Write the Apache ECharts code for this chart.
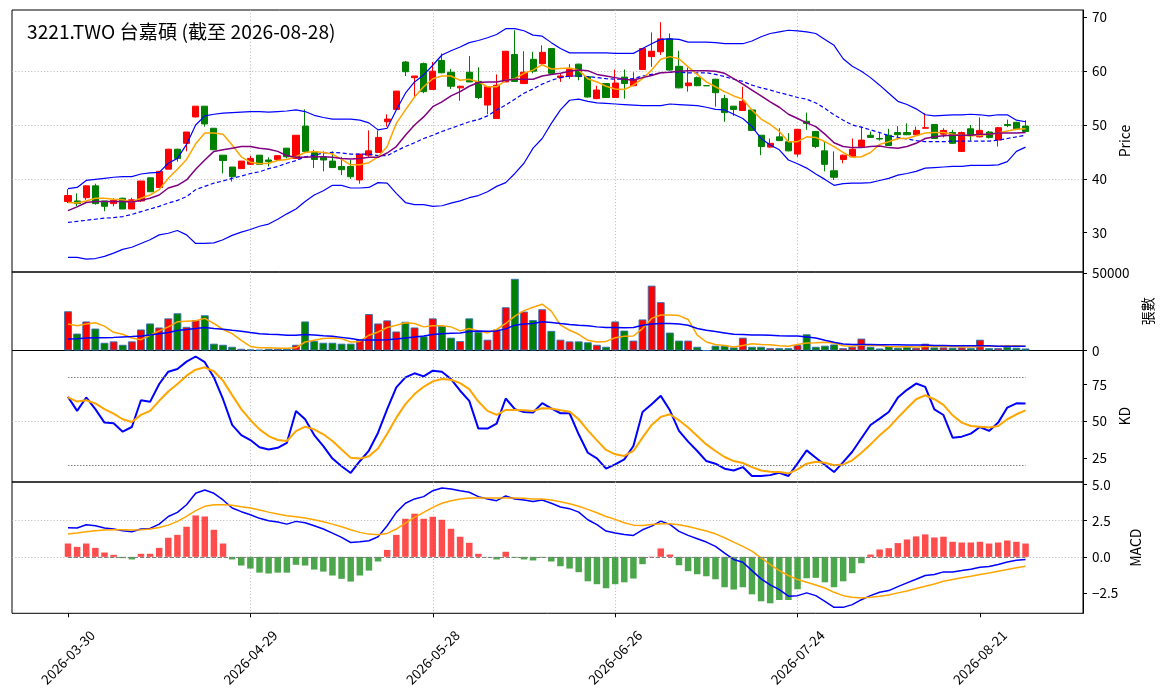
<!DOCTYPE html>
<html><head><meta charset="utf-8">
<script src="https://cdn.jsdelivr.net/npm/echarts@6/dist/echarts.min.js"></script>
<style>html,body{margin:0;padding:0;background:#fff}#c{width:1163px;height:698px}</style>
</head><body><div id="c"></div>
<script>
const dates = ['2026-03-30','2026-03-31','2026-04-01','2026-04-02','2026-04-07','2026-04-08','2026-04-09','2026-04-10','2026-04-13','2026-04-14','2026-04-15','2026-04-16','2026-04-17','2026-04-20','2026-04-21','2026-04-22','2026-04-23','2026-04-24','2026-04-27','2026-04-28','2026-04-29','2026-04-30','2026-05-04','2026-05-05','2026-05-06','2026-05-07','2026-05-08','2026-05-11','2026-05-12','2026-05-13','2026-05-14','2026-05-15','2026-05-18','2026-05-19','2026-05-20','2026-05-21','2026-05-22','2026-05-25','2026-05-26','2026-05-27','2026-05-28','2026-05-29','2026-06-01','2026-06-02','2026-06-03','2026-06-04','2026-06-05','2026-06-08','2026-06-09','2026-06-10','2026-06-11','2026-06-12','2026-06-15','2026-06-16','2026-06-17','2026-06-18','2026-06-22','2026-06-23','2026-06-24','2026-06-25','2026-06-26','2026-06-29','2026-06-30','2026-07-01','2026-07-02','2026-07-03','2026-07-06','2026-07-07','2026-07-08','2026-07-09','2026-07-10','2026-07-13','2026-07-14','2026-07-15','2026-07-16','2026-07-17','2026-07-20','2026-07-21','2026-07-22','2026-07-23','2026-07-24','2026-07-27','2026-07-28','2026-07-29','2026-07-30','2026-07-31','2026-08-03','2026-08-04','2026-08-05','2026-08-06','2026-08-07','2026-08-10','2026-08-11','2026-08-12','2026-08-13','2026-08-14','2026-08-17','2026-08-18','2026-08-19','2026-08-20','2026-08-21','2026-08-24','2026-08-25','2026-08-26','2026-08-27','2026-08-28'];

const openP = [35.8,35.9,36.5,38.7,35.9,35.4,36.4,34.4,35.9,40.2,38.4,41.8,45.5,46.6,51.5,53.5,49.4,44.4,42.2,41.9,42.7,44.4,43.5,43.6,45.7,43.8,49.8,44.9,44.0,43.3,42.3,42.3,39.8,44.4,44.9,50.6,52.9,61.7,58.8,61.4,56.6,62.0,59.8,56.9,59.8,58.1,53.7,51.2,58.0,63.1,57.7,62.2,61.4,64.2,58.8,59.0,61.3,59.0,54.9,57.7,55.1,58.9,57.3,60.3,62.7,63.6,66.0,60.9,57.3,58.8,57.3,58.5,54.9,53.5,52.7,52.8,48.1,45.9,47.8,46.9,44.6,50.7,48.8,45.2,41.5,43.6,44.1,46.0,48.1,47.5,48.1,48.6,48.6,48.2,49.4,50.1,48.3,48.6,45.1,49.3,47.8,48.7,47.2,50.1,50.5,49.8];
const closeP = [36.9,35.4,38.7,35.4,34.9,36.0,34.4,36.1,39.6,37.6,41.4,45.5,43.8,48.7,53.5,50.2,45.4,43.4,40.4,43.3,43.8,42.7,43.2,44.3,44.1,48.1,45.1,43.6,43.5,42.1,41.7,40.4,44.6,45.2,47.7,51.1,56.3,59.9,59.1,56.2,60.0,59.7,57.2,57.2,58.0,55.1,57.1,57.4,63.7,58.1,59.8,60.0,63.5,59.6,59.1,60.3,59.0,55.2,56.5,55.1,57.8,57.7,58.5,64.2,63.7,66.0,60.2,56.9,57.8,57.3,57.3,56.0,52.3,52.9,54.4,49.0,46.0,46.6,47.1,45.2,49.2,50.3,46.0,42.7,40.3,44.4,45.5,47.2,47.7,47.4,46.2,48.2,48.2,49.0,49.5,47.5,49.0,46.6,48.6,48.0,49.0,47.7,49.5,49.9,49.3,48.8];
const lowP = [35.5,34.9,36.1,35.2,34.0,34.9,34.4,34.4,35.7,37.6,38.3,41.8,43.2,45.1,51.4,49.7,45.4,41.0,39.5,41.9,42.6,42.7,42.3,43.5,43.8,43.8,45.1,42.0,41.4,42.0,40.7,40.0,39.1,44.1,44.8,49.7,52.9,59.1,55.1,55.9,56.5,59.6,56.7,54.5,58.0,54.8,52.0,51.2,58.0,58.0,57.6,59.6,61.1,59.5,58.0,58.6,58.3,55.1,54.8,55.1,55.1,54.9,57.2,60.3,60.8,63.0,60.1,56.8,56.2,57.2,57.3,53.4,50.6,51.7,52.6,49.0,44.4,45.8,47.1,45.1,44.1,49.1,45.7,41.4,39.8,42.9,44.0,45.9,47.6,47.1,46.1,47.3,48.1,48.1,49.4,47.4,47.7,46.5,45.1,47.1,47.7,47.5,46.0,49.6,49.3,48.8];
const highP = [38.1,37.3,38.8,39.1,35.9,36.4,36.5,36.5,39.6,40.2,41.4,45.6,45.6,48.7,53.5,53.5,49.4,44.4,42.2,43.3,44.3,44.4,44.0,44.4,45.7,48.1,52.9,45.4,45.1,45.1,44.1,43.5,44.6,49.0,49.0,52.0,56.3,61.9,59.1,61.6,61.7,63.3,60.4,57.3,62.8,60.7,57.1,59.4,63.7,67.6,63.7,63.6,64.8,64.2,59.6,61.3,61.4,59.0,57.3,57.8,60.3,60.3,59.8,64.2,67.2,69.1,67.0,63.8,60.7,59.0,57.3,58.6,55.6,53.5,57.1,52.9,48.1,47.5,49.4,48.5,49.2,52.3,48.9,46.9,45.1,44.5,47.5,49.7,48.8,48.5,49.3,49.8,50.3,49.7,52.2,50.1,49.4,49.1,48.8,50.0,51.4,48.9,49.6,51.0,50.6,50.9];
const volume = [25400,10950,18800,14200,5000,5900,3700,5900,13600,17500,14900,20800,24100,15300,19700,22800,4400,3700,2400,1100,650,400,1100,1100,1100,3700,18800,6100,5000,5000,4400,4400,7000,23600,17500,19500,12300,18600,14900,9200,20800,15800,8300,6100,20800,12000,7000,13600,28000,46400,25200,19700,26700,12700,7000,5900,5900,5300,3700,2400,18800,12900,6400,20100,42000,31300,11600,6400,6400,2400,0,3100,3100,2000,8300,2400,2400,1500,1500,1500,3500,10500,2400,3100,3900,1500,2400,7700,2400,1300,2800,1800,2400,1800,4400,2000,2000,1800,2000,1500,7000,1500,1500,2400,1800,1300];

const ma5 = [35.6,35.5,35.9,36.4,36.4,36.2,36.1,35.7,36.4,37.0,38.0,40.1,41.8,43.6,46.5,48.5,48.5,48.3,46.3,44.1,43.1,42.8,42.9,43.4,43.6,44.1,44.9,45.1,44.9,44.6,43.6,42.6,42.6,43.0,44.1,46.0,50.3,52.8,55.2,57.1,58.6,59.1,59.1,58.3,58.5,58.0,57.1,57.1,58.3,58.6,59.6,60.2,61.2,60.4,60.5,60.6,60.2,58.6,58.0,57.2,56.7,56.6,57.4,58.6,60.2,62.2,62.7,62.3,60.8,59.4,58.0,57.1,56.2,55.4,54.8,52.8,51.1,50.1,48.8,46.9,46.9,47.8,47.7,46.9,46.0,44.9,44.0,44.1,44.9,46.4,46.9,47.5,47.5,48.0,48.5,48.6,48.6,48.3,48.1,48.0,48.1,48.3,48.5,48.9,49.2,49.3];
const ma10 = [34.1,34.8,35.6,35.8,35.8,35.8,35.8,35.7,36.0,36.4,37.0,38.3,38.8,39.8,41.8,43.5,45.1,45.4,45.7,46.0,46.0,45.7,45.5,45.1,44.3,44.0,44.0,44.1,44.1,44.0,43.8,43.7,43.8,44.0,44.0,44.8,46.0,48.1,50.0,51.5,53.4,54.3,55.4,56.2,57.2,57.9,58.0,58.0,58.3,58.5,58.5,58.5,59.1,59.4,59.6,60.0,60.2,60.1,59.4,59.1,58.8,58.5,58.3,58.8,59.2,59.7,59.8,60.0,60.1,60.1,60.1,60.0,59.6,58.6,57.6,56.5,55.4,54.3,53.3,52.0,51.2,50.4,49.7,48.3,46.7,46.0,45.8,45.8,46.0,46.1,45.8,45.7,46.0,46.6,47.5,47.8,48.0,48.1,48.1,48.1,48.3,48.3,48.5,48.5,48.5,48.6];
const bbUpper = [38.2,38.4,39.7,39.9,40.1,40.3,40.4,40.4,40.9,41.1,41.2,42.9,43.8,46.4,50.0,51.7,52.0,52.2,52.3,52.4,52.5,52.5,52.4,52.5,52.6,52.8,52.5,51.8,51.4,51.1,51.1,51.1,50.9,50.4,49.1,49.4,52.8,55.9,58.0,59.3,61.1,63.0,63.8,64.5,65.3,65.7,66.2,66.8,67.9,67.9,67.5,66.7,66.5,65.3,64.2,63.4,63.4,63.4,63.4,63.4,63.3,63.3,63.3,64.2,65.1,65.9,66.0,65.9,65.4,65.4,65.4,65.3,65.1,65.1,65.1,65.6,66.4,67.0,67.3,67.6,67.5,67.3,67.0,65.9,64.8,62.3,60.9,60.0,58.8,57.4,55.9,54.4,53.8,53.0,51.9,51.7,51.8,51.9,51.9,52.0,51.9,51.7,51.9,51.9,50.9,50.6];
const bbMid = [31.9,32.1,32.3,32.5,32.7,32.8,33.0,33.4,33.9,34.4,34.9,35.5,36.0,36.7,38.0,38.6,39.2,39.6,40.1,40.5,41.0,41.3,41.9,42.3,42.9,43.4,44.1,44.4,44.8,44.9,44.8,44.6,44.6,44.6,44.3,44.3,45.2,46.0,46.7,47.5,48.1,48.8,49.4,50.0,50.6,51.0,51.7,52.8,53.7,54.8,55.9,56.7,57.6,58.3,58.8,59.1,59.1,59.0,58.8,58.6,58.5,58.5,58.6,59.1,59.4,59.7,59.8,59.8,59.7,59.7,59.7,59.4,59.0,58.5,58.1,57.4,56.9,56.5,56.0,55.6,55.1,54.8,54.1,53.1,51.9,50.9,50.0,49.6,49.1,48.6,48.0,47.7,47.4,47.1,46.9,46.9,46.9,47.0,47.0,47.0,47.0,47.0,47.2,47.5,47.8,48.1];
const bbLower = [25.4,25.4,25.1,25.2,25.6,26.2,26.9,27.3,28.0,28.7,29.6,29.9,30.4,29.6,28.0,28.0,28.1,28.7,29.5,30.1,30.6,31.2,31.6,32.5,33.5,34.4,35.8,37.0,37.8,38.8,38.8,38.3,38.3,38.4,39.3,39.2,37.3,35.6,35.2,35.2,34.9,35.0,35.5,35.9,36.5,36.9,37.6,38.6,39.3,41.0,42.9,45.7,47.5,50.3,52.8,54.6,54.8,54.4,54.1,54.0,53.9,53.8,53.7,53.6,53.6,53.6,53.9,53.8,53.7,53.6,53.3,52.9,52.8,52.0,51.2,49.7,47.5,46.3,45.4,43.5,42.8,42.0,40.9,39.9,38.8,39.1,39.2,39.2,39.3,39.7,40.1,40.7,41.0,41.4,42.0,42.1,42.2,42.3,42.3,42.5,42.5,42.5,42.6,43.2,45.1,45.9];

const volMa5 = [17100,16000,17100,18000,15800,11800,10500,8100,7000,9900,12700,15300,18600,19000,19300,20800,17500,13600,10900,6600,2600,1750,1750,1500,1500,1750,5500,6600,7700,8100,7700,5500,5900,9900,12000,14900,16400,18000,17500,15300,16000,16000,15300,12700,14200,12700,11400,13600,17500,22300,25800,28000,30000,25500,16400,13100,10500,6600,5500,5900,8300,9200,9400,14200,20800,23000,23000,22600,20100,9900,5500,3900,3300,2200,3300,4400,3900,3700,3100,2800,3900,4800,5000,5300,4800,3100,2800,3500,3300,3300,2600,2400,2400,2200,2600,2600,2600,2600,2200,2200,2600,2800,2800,3100,3100,2800];
const volMa20 = [7400,7600,8100,8300,8300,8500,8800,9000,9400,10100,10900,11600,12900,13600,14200,14900,14200,13800,13100,12500,11600,10900,10500,10300,9900,9900,10300,10100,9600,9200,8500,7700,6800,6800,6800,7000,7400,8100,8800,9400,10300,10900,11200,11400,12300,12700,12500,12700,14000,16400,17100,17500,18600,18200,17500,16900,16400,16000,15300,14900,14900,14700,14900,16400,17100,17500,17500,17100,16400,14200,13100,12300,11400,10500,10300,10100,10100,9900,9600,9400,9400,8800,8100,6600,5300,4200,3900,3900,3900,3700,3700,3700,3500,3500,3500,3300,3300,3100,3100,3100,3100,3100,2800,2800,2800,2800];

const kLine = [66.7,57.1,66.3,58.3,49.1,48.6,42.9,46.1,64.4,63.3,75.5,83.9,85.8,90.8,94.3,90.4,80.0,65.1,47.5,40.6,37.2,32.3,30.7,31.9,35.3,57.1,51.4,40.6,33.0,24.5,19.3,14.7,22.7,30.0,42.2,58.3,73.2,80.0,82.8,80.7,84.6,83.9,78.9,70.9,64.0,45.0,45.0,48.4,65.6,58.3,56.4,56.0,62.4,58.9,55.5,55.5,41.1,28.5,24.7,17.6,20.5,24.0,33.1,56.4,61.6,67.4,57.5,43.4,36.1,29.7,22.8,21.0,17.6,16.4,18.7,12.6,12.6,13.2,14.8,12.6,21.2,30.1,25.1,20.1,15.3,22.1,29.2,38.4,47.5,51.8,56.4,66.2,71.5,75.8,73.5,58.2,54.3,38.8,39.5,41.6,46.1,43.4,49.1,59.4,62.3,62.1];
const dLine = [66.3,63.5,64.4,62.2,58.3,55.3,51.4,49.5,54.4,57.1,64.0,70.4,75.5,81.2,85.3,86.9,84.2,77.8,67.9,58.3,50.9,44.5,39.9,37.2,36.5,43.3,46.3,44.5,41.1,36.5,30.7,25.0,24.5,26.1,31.4,41.5,52.5,61.7,68.6,73.6,77.3,78.9,78.4,76.1,72.0,63.5,57.1,54.4,57.8,57.8,57.6,57.1,58.9,58.7,57.5,56.6,51.4,43.8,37.0,30.4,27.4,26.3,29.7,38.8,47.5,53.0,54.8,50.7,45.7,40.0,34.2,29.7,25.6,22.8,21.5,18.7,16.4,15.5,15.3,14.4,17.1,21.0,22.4,21.7,19.9,20.5,23.3,28.5,34.2,40.4,45.7,52.5,58.9,65.1,67.8,65.1,61.2,54.1,49.1,46.8,46.3,45.7,46.8,51.4,54.8,57.5];

const dif = [2.01,1.99,2.22,2.15,1.99,1.92,1.80,1.73,1.92,1.96,2.26,2.79,3.07,3.60,4.39,4.62,4.39,3.93,3.37,3.12,2.91,2.66,2.49,2.40,2.26,2.45,2.36,2.15,1.92,1.64,1.34,0.99,1.04,1.11,1.39,2.15,3.07,3.70,4.00,4.16,4.57,4.76,4.69,4.57,4.46,4.16,4.00,3.88,4.20,4.00,3.93,3.83,3.93,3.70,3.44,3.33,3.09,2.56,2.22,1.78,1.64,1.55,1.48,1.87,2.12,2.47,2.24,1.76,1.48,1.25,1.02,0.72,0.25,-0.18,-0.37,-0.95,-1.52,-1.94,-2.26,-2.72,-2.68,-2.49,-2.68,-3.07,-3.49,-3.49,-3.30,-2.96,-2.68,-2.45,-2.33,-2.06,-1.80,-1.55,-1.29,-1.22,-1.04,-1.04,-0.95,-0.85,-0.72,-0.67,-0.53,-0.35,-0.23,-0.18];
const dea = [1.57,1.64,1.73,1.80,1.85,1.87,1.87,1.85,1.87,1.92,2.03,2.19,2.45,2.79,3.19,3.49,3.60,3.60,3.56,3.46,3.37,3.23,3.09,2.96,2.84,2.77,2.68,2.56,2.42,2.26,2.08,1.87,1.69,1.57,1.52,1.62,1.92,2.33,2.73,3.07,3.42,3.70,3.88,4.00,4.06,4.06,4.06,4.06,4.06,4.06,4.04,4.00,4.00,3.92,3.81,3.67,3.49,3.28,3.05,2.79,2.59,2.36,2.19,2.17,2.24,2.29,2.29,2.22,2.10,1.94,1.78,1.59,1.32,1.02,0.72,0.39,-0.07,-0.53,-0.95,-1.29,-1.57,-1.76,-1.94,-2.15,-2.45,-2.68,-2.79,-2.84,-2.79,-2.72,-2.63,-2.49,-2.36,-2.19,-2.03,-1.87,-1.69,-1.57,-1.45,-1.34,-1.22,-1.11,-0.99,-0.88,-0.76,-0.65];
const macdHist = [0.92,0.69,0.92,0.62,0.30,0.14,-0.09,-0.18,0.21,0.21,0.62,1.32,1.52,2.08,2.86,2.79,1.87,0.92,-0.18,-0.60,-0.81,-1.09,-1.15,-1.09,-1.09,-0.55,-0.60,-0.88,-1.02,-1.29,-1.52,-1.71,-1.29,-0.95,-0.32,0.48,1.52,2.63,2.98,2.63,2.77,2.56,1.94,1.39,0.97,0.21,-0.02,-0.18,0.35,-0.05,-0.18,-0.25,-0.05,-0.32,-0.65,-0.81,-1.06,-1.69,-1.89,-2.17,-1.89,-1.76,-1.50,-0.51,0.02,0.58,0.16,-0.58,-0.99,-1.20,-1.34,-1.55,-2.10,-2.26,-2.10,-2.59,-3.07,-3.21,-2.98,-2.98,-2.24,-1.48,-1.45,-1.76,-2.10,-1.69,-1.13,-0.44,0.16,0.51,0.60,0.95,1.20,1.41,1.55,1.34,1.39,1.04,0.99,0.99,1.04,0.92,0.99,1.13,1.04,0.92];

const xTickIdx = [0,20,40,60,80,100];
const priceTicks = [30,40,50,60,70];
const volTicks = [0,50000];
const kdTicks = [25,50,75];
const macdTicks = [-2.5,0,2.5,5];
const kdRefLevels = [80,20];
const title = '3221.TWO 台嘉碩 (截至 2026-08-28)';

const FONT = '"Noto Sans CJK TC","Noto Sans CJK SC",sans-serif';
const UP = '#ff0000', DOWN = '#008000';
const pair = arr => arr.map((v, i) => [i, v]);
const lastIdx = dates.length - 1;

const panels = [
  {top: 10, height: 262, min: 22.7, max: 71.36, step: 10, ticks: priceTicks, name: 'Price', gap: 30, fmt: v => String(v)},
  {top: 272, height: 78.5, min: 0, max: 50840, step: 50000, ticks: volTicks, name: '張數', gap: 53, fmt: v => String(v)},
  {top: 350.5, height: 131.5, min: 8.5, max: 98.4, step: 25, ticks: kdTicks, name: 'KD', gap: 30, fmt: v => String(v)},
  {top: 482, height: 131.3, min: -3.9, max: 5.17, step: 2.5, ticks: macdTicks, name: 'MACD', gap: 40, fmt: v => (v < 0 ? '\u2212' : '') + Math.abs(v).toFixed(1)}
];
const gridLine = {show: true, showMinLine: false, showMaxLine: false, lineStyle: {color: '#b4b4b4', width: 0.8, type: [1.2, 2]}};

const option = {
  animation: false,
  backgroundColor: '#fff',
  textStyle: {fontFamily: FONT},
  title: {text: title, left: 27, top: 22, padding: 0, textStyle: {fontFamily: FONT, fontSize: 19.2, fontWeight: 'normal', color: '#000'}},
  grid: panels.map(p => ({left: 12, width: 1071, top: p.top, height: p.height, show: true, borderColor: '#000', borderWidth: 1, backgroundColor: 'transparent'})),
  xAxis: panels.map((p, gi) => ({
    type: 'value', gridIndex: gi, min: -6.14, max: 111.3, minInterval: 20, maxInterval: 20,
    axisLine: {show: false, onZero: false},
    axisTick: {show: gi === 3, length: 4, customValues: xTickIdx, lineStyle: {color: '#000'}},
    axisLabel: {show: gi === 3, customValues: xTickIdx, rotate: 45, align: 'center', verticalAlign: 'middle', margin: 44, fontSize: 13.5, color: '#000', fontFamily: FONT,
      formatter: v => dates[Math.round(v)] || ''},
    splitLine: gridLine
  })),
  yAxis: panels.map((p, gi) => ({
    type: 'value', gridIndex: gi, position: 'right', min: p.min, max: p.max, minInterval: p.step, maxInterval: p.step,
    axisLine: {show: true, onZero: false, lineStyle: {color: '#000', width: 1}},
    axisTick: {show: true, length: 4, customValues: p.ticks, lineStyle: {color: '#000'}},
    axisLabel: {customValues: p.ticks, margin: 9, fontSize: 13.5, color: '#000', fontFamily: FONT, formatter: p.fmt},
    splitLine: gridLine,
    name: p.name, nameLocation: 'middle', nameRotate: 90, nameGap: p.gap,
    nameTextStyle: {fontSize: 14, color: '#000', fontFamily: FONT}
  })),
  series: [
    {type: 'candlestick', xAxisIndex: 0, yAxisIndex: 0, barWidth: 6.6, z: 2,
     data: dates.map((d, i) => [i, openP[i], closeP[i], lowP[i], highP[i]]),
     itemStyle: {color: UP, color0: DOWN, borderColor: UP, borderColor0: DOWN, borderColorDoji: DOWN, borderWidth: 1}},
    {type: 'line', xAxisIndex: 0, yAxisIndex: 0, data: pair(bbUpper), symbol: 'none', z: 3, lineStyle: {color: '#0000ff', width: 1.2}},
    {type: 'line', xAxisIndex: 0, yAxisIndex: 0, data: pair(bbMid), symbol: 'none', z: 3, lineStyle: {color: '#0000ff', width: 1.2, type: [4, 2.5]}},
    {type: 'line', xAxisIndex: 0, yAxisIndex: 0, data: pair(bbLower), symbol: 'none', z: 3, lineStyle: {color: '#0000ff', width: 1.2}},
    {type: 'line', xAxisIndex: 0, yAxisIndex: 0, data: pair(ma5), symbol: 'none', z: 3, lineStyle: {color: '#ffa500', width: 1.5}},
    {type: 'line', xAxisIndex: 0, yAxisIndex: 0, data: pair(ma10), symbol: 'none', z: 3, lineStyle: {color: '#800080', width: 1.5}},

    {type: 'bar', xAxisIndex: 1, yAxisIndex: 1, barWidth: 7.8, z: 2,
     data: volume.map((v, i) => ({value: [i, v], itemStyle: {color: closeP[i] >= openP[i] ? UP : DOWN}})),
     itemStyle: {borderColor: '#2f6fb2', borderWidth: 0.9}},
    {type: 'line', xAxisIndex: 1, yAxisIndex: 1, data: pair(volMa5), symbol: 'none', z: 3, lineStyle: {color: '#ffa500', width: 1.5}},
    {type: 'line', xAxisIndex: 1, yAxisIndex: 1, data: pair(volMa20), symbol: 'none', z: 3, lineStyle: {color: '#0000ff', width: 1.5}},

    {type: 'line', xAxisIndex: 2, yAxisIndex: 2, data: pair(kLine), symbol: 'none', z: 3, lineStyle: {color: '#0000ff', width: 2}},
    {type: 'line', xAxisIndex: 2, yAxisIndex: 2, data: pair(dLine), symbol: 'none', z: 3, lineStyle: {color: '#ffa500', width: 2},
     markLine: {silent: true, symbol: 'none', label: {show: false}, lineStyle: {color: '#808080', width: 1, type: [1.5, 1.5]},
       data: kdRefLevels.map(lv => [{coord: [0, lv]}, {coord: [lastIdx, lv]}])}},

    {type: 'bar', xAxisIndex: 3, yAxisIndex: 3, barWidth: 6.5, z: 2,
     data: macdHist.map((v, i) => ({value: [i, v], itemStyle: {color: v >= 0 ? 'rgba(255,0,0,0.7)' : 'rgba(0,128,0,0.7)'}}))},
    {type: 'line', xAxisIndex: 3, yAxisIndex: 3, data: pair(dif), symbol: 'none', z: 3, lineStyle: {color: '#0000ff', width: 1.5},
     markLine: {silent: true, symbol: 'none', label: {show: false}, lineStyle: {color: '#808080', width: 1, type: [4, 2]},
       data: [[{coord: [0, 0]}, {coord: [lastIdx, 0]}]]}},
    {type: 'line', xAxisIndex: 3, yAxisIndex: 3, data: pair(dea), symbol: 'none', z: 3, lineStyle: {color: '#ffa500', width: 1.5}}
  ]
};
const chart = echarts.init(document.getElementById('c'), null, {renderer: 'canvas'});
chart.setOption(option);
</script></body></html>
